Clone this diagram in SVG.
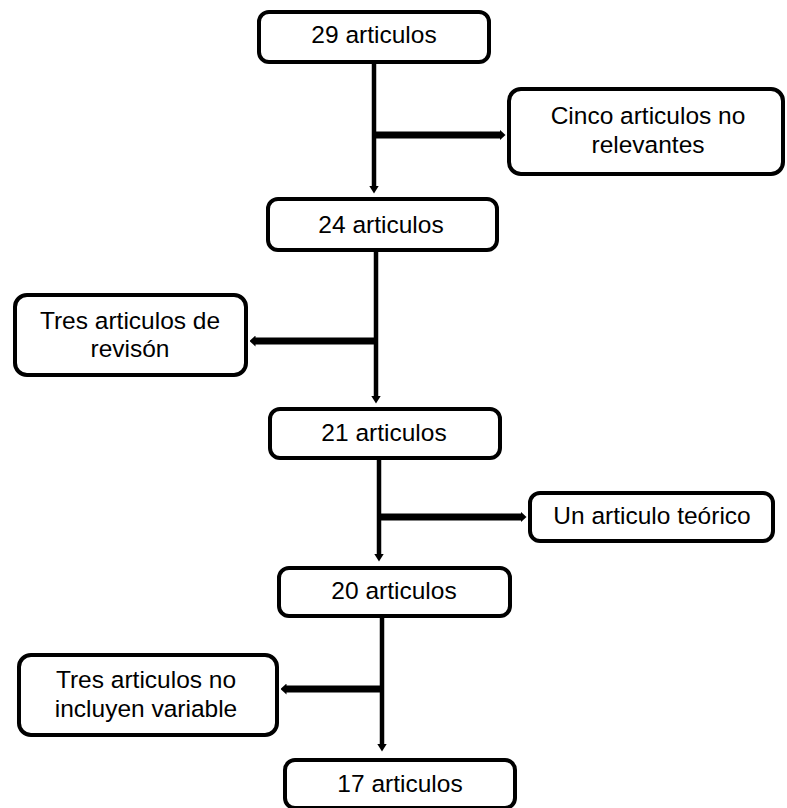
<svg xmlns="http://www.w3.org/2000/svg" width="787" height="808" viewBox="0 0 787 808">
<style>
.box{fill:#fff;stroke:#000;stroke-width:4}
.t{font-family:"Liberation Sans",Arial,sans-serif;font-size:24.5px;fill:#000;text-anchor:middle}
.v{stroke:#000;stroke-width:4.5;fill:none}
.h{stroke:#000;stroke-width:7;fill:none}
</style>
<defs>
<marker id="av" markerUnits="userSpaceOnUse" viewBox="0 0 8 10" markerWidth="8" markerHeight="10" refX="0.5" refY="5" orient="auto">
<path d="M0,0 L8,5 L0,10 z" fill="#000"/>
</marker>
<marker id="ah" markerUnits="userSpaceOnUse" viewBox="0 0 6 11" markerWidth="6" markerHeight="11" refX="0.5" refY="5.5" orient="auto">
<path d="M0,0 L6,5.5 L0,11 z" fill="#000"/>
</marker>
</defs>
<rect width="787" height="808" fill="#fff"/>
<g id="connectors">
<line class="v" x1="374" y1="64" x2="374" y2="186" marker-end="url(#av)"/>
<line class="h" x1="374" y1="135" x2="500" y2="135" marker-end="url(#ah)"/>
<line class="v" x1="376" y1="252" x2="376" y2="396" marker-end="url(#av)"/>
<line class="h" x1="374" y1="341" x2="255" y2="341" marker-end="url(#ah)"/>
<line class="v" x1="379" y1="460" x2="379" y2="554" marker-end="url(#av)"/>
<line class="h" x1="379" y1="517" x2="521" y2="517" marker-end="url(#ah)"/>
<line class="v" x1="382" y1="618" x2="382" y2="744" marker-end="url(#av)"/>
<line class="h" x1="383" y1="689" x2="286" y2="689" marker-end="url(#ah)"/>
</g>
<g id="n29">
<rect class="box" x="259" y="12" width="230" height="50" rx="10"/>
<text class="t" x="374" y="43">29 articulos</text>
</g>
<g id="ncinco">
<rect class="box" x="509" y="89" width="274" height="85" rx="12"/>
<text class="t" x="648" y="124">Cinco articulos no</text>
<text class="t" x="648" y="153">relevantes</text>
</g>
<g id="n24">
<rect class="box" x="268" y="199" width="229" height="51" rx="10"/>
<text class="t" x="381" y="233">24 articulos</text>
</g>
<g id="nrevision">
<rect class="box" x="15" y="295" width="231" height="80" rx="12"/>
<text class="t" x="130" y="329">Tres articulos de</text>
<text class="t" x="130" y="357">revisón</text>
</g>
<g id="n21">
<rect class="box" x="270" y="409" width="230" height="49" rx="10"/>
<text class="t" x="384" y="441">21 articulos</text>
</g>
<g id="nteorico">
<rect class="box" x="530" y="493" width="243" height="48" rx="10"/>
<text class="t" x="652" y="524">Un articulo teórico</text>
</g>
<g id="n20">
<rect class="box" x="279" y="568" width="231" height="48" rx="10"/>
<text class="t" x="394" y="599">20 articulos</text>
</g>
<g id="nvariable">
<rect class="box" x="19" y="655" width="258" height="80" rx="12"/>
<text class="t" x="146" y="688">Tres articulos no</text>
<text class="t" x="146" y="717">incluyen variable</text>
</g>
<g id="n17">
<rect class="box" x="285" y="760" width="230" height="48" rx="10"/>
<text class="t" x="400" y="792">17 articulos</text>
</g>
</svg>
